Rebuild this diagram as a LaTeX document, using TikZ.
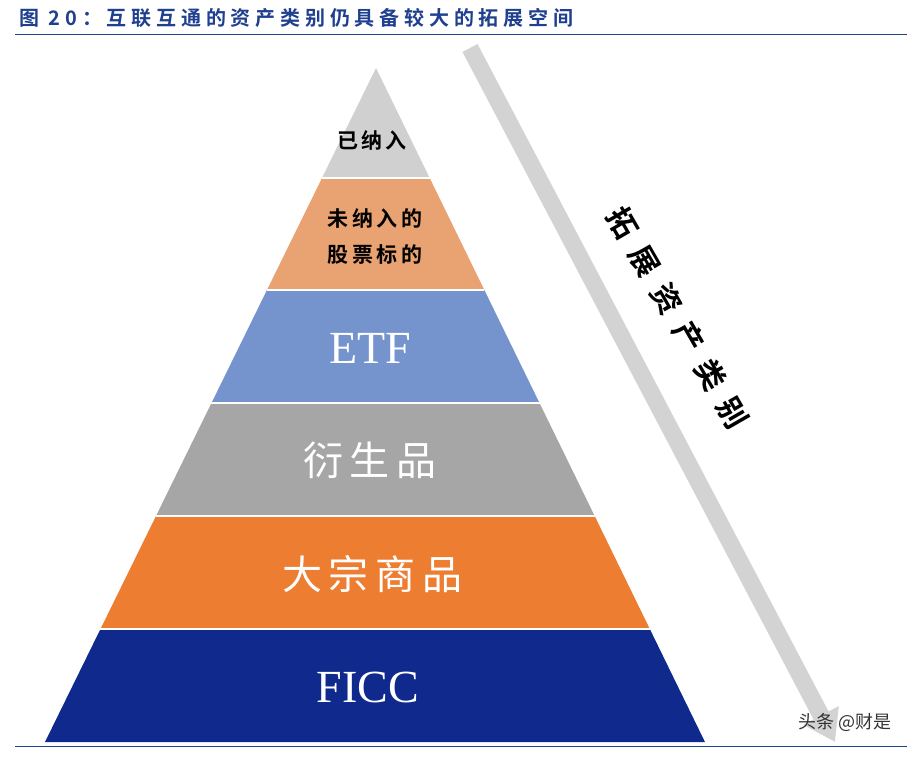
\documentclass[tikz,border=0pt]{standalone}
\usepackage{fontspec}
\setmainfont{Liberation Serif}
\newfontfamily\cjk{Noto Sans CJK SC}
\newfontfamily\cjkb{Noto Sans CJK SC Bold}
\newfontfamily\cjkt[LetterSpace=24]{Noto Sans CJK SC Bold}
\usetikzlibrary{arrows.meta}
\definecolor{titleblue}{HTML}{1F3F8F}
\definecolor{lyA}{HTML}{D0D0D0}
\definecolor{lyB}{HTML}{E9A272}
\definecolor{lyC}{HTML}{7594CD}
\definecolor{lyD}{HTML}{A6A6A6}
\definecolor{lyE}{HTML}{ED7D31}
\definecolor{lyF}{HTML}{0F298C}
\definecolor{arrowgray}{HTML}{D3D3D3}
\tikzset{layer/.style={draw=white,line width=2pt},
  lbl/.style={text=white,font=\fontsize{46}{50}\selectfont},
  lblc/.style={text=white,font=\cjk\fontsize{40}{44}\selectfont}}
\begin{document}
\begin{tikzpicture}[x=1pt,y=-1pt]
\useasboundingbox (0,0) rectangle (922,757);
\node[anchor=west,text=titleblue,font=\cjkt\fontsize{20}{22}\selectfont] (title) at (16,18) {图 20：互联互通的资产类别仍具备较大的拓展空间};
\draw[titleblue,line width=1pt] (15,35) -- (907,35);
\draw[titleblue,line width=1pt] (15,746) -- (907,746);
% arrow
\coordinate (as) at (470,48);
\coordinate (ae) at (835,742);
\draw[arrowgray,line width=17pt,-{Triangle[length=30pt,width=38pt]}] (as) -- (ae);
\node[rotate=-60,font=\cjkb\fontsize{30}{34}\selectfont] (arrtxt) at (678,318) {拓\hspace{14pt}展\hspace{14pt}资\hspace{14pt}产\hspace{14pt}类\hspace{14pt}别};
% pyramid layers
\def\lx#1{376-0.4911*(#1-68)}
\def\rx#1{376+0.4881*(#1-68)}
\fill[lyA] (376,68) -- ({\rx{178}},178) -- ({\lx{178}},178) -- cycle;
\fill[lyB] ({\lx{178}},178) -- ({\rx{178}},178) -- ({\rx{290}},290) -- ({\lx{290}},290) -- cycle;
\fill[lyC] ({\lx{290}},290) -- ({\rx{290}},290) -- ({\rx{403}},403) -- ({\lx{403}},403) -- cycle;
\fill[lyD] ({\lx{403}},403) -- ({\rx{403}},403) -- ({\rx{516}},516) -- ({\lx{516}},516) -- cycle;
\fill[lyE] ({\lx{516}},516) -- ({\rx{516}},516) -- ({\rx{629}},629) -- ({\lx{629}},629) -- cycle;
\fill[lyF] ({\lx{629}},629) -- ({\rx{629}},629) -- ({\rx{742}},742) -- ({\lx{742}},742) -- cycle;
\foreach \y in {178,290,403,516,629} \draw[white,line width=2pt] ({\lx{\y}},\y) -- ({\rx{\y}},\y);
\node[font=\cjkb\fontsize{21}{24}\selectfont] (l1) at (372,140) {已\,纳\,入};
\node[font=\cjkb\fontsize{21}{36}\selectfont,align=center] (l2) at (375,236) {未\,纳\,入\,的\\股\,票\,标\,的};
\node[lbl] (l3) at (370,348) {ETF};
\node[lblc] (l4) at (370,460) {衍\,生\,品};
\node[lblc] (l5) at (372,574) {大\,宗\,商\,品};
\node[lbl] (l6) at (368,687) {FICC};
\node[font=\cjk\fontsize{18}{20}\selectfont,text=black!80] (wm) at (845,722) {头条 @财是};
\end{tikzpicture}
\end{document}
